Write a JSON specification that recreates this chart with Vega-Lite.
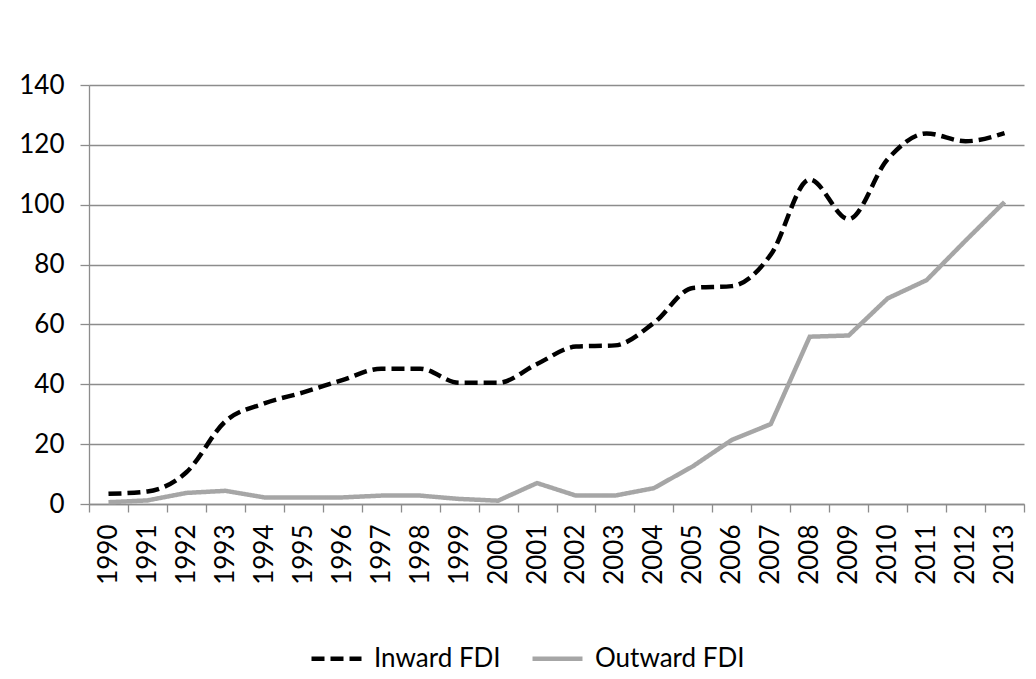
{
  "$schema": "https://vega.github.io/schema/vega-lite/v6.json",
  "width": 935,
  "height": 419,
  "autosize": "none",
  "padding": {"left": 89, "top": 85, "right": 12, "bottom": 175},
  "background": "white",
  "config": {
    "view": {"stroke": null},
    "font": "Lato"
  },
  "data": {
    "values": [
      {"year": "1990", "series": "Inward FDI", "value": 3.4},
      {"year": "1991", "series": "Inward FDI", "value": 4.2},
      {"year": "1992", "series": "Inward FDI", "value": 10.6},
      {"year": "1993", "series": "Inward FDI", "value": 27.6},
      {"year": "1994", "series": "Inward FDI", "value": 33.6},
      {"year": "1995", "series": "Inward FDI", "value": 37.3},
      {"year": "1996", "series": "Inward FDI", "value": 41.4},
      {"year": "1997", "series": "Inward FDI", "value": 45.2},
      {"year": "1998", "series": "Inward FDI", "value": 45.2},
      {"year": "1999", "series": "Inward FDI", "value": 40.5},
      {"year": "2000", "series": "Inward FDI", "value": 40.5},
      {"year": "2001", "series": "Inward FDI", "value": 46.8},
      {"year": "2002", "series": "Inward FDI", "value": 52.6},
      {"year": "2003", "series": "Inward FDI", "value": 53.0},
      {"year": "2004", "series": "Inward FDI", "value": 60.5},
      {"year": "2005", "series": "Inward FDI", "value": 72.2},
      {"year": "2006", "series": "Inward FDI", "value": 72.8},
      {"year": "2007", "series": "Inward FDI", "value": 83.3},
      {"year": "2008", "series": "Inward FDI", "value": 108.4},
      {"year": "2009", "series": "Inward FDI", "value": 95.2},
      {"year": "2010", "series": "Inward FDI", "value": 115.2},
      {"year": "2011", "series": "Inward FDI", "value": 123.8},
      {"year": "2012", "series": "Inward FDI", "value": 121.2},
      {"year": "2013", "series": "Inward FDI", "value": 123.9},
      {"year": "1990", "series": "Outward FDI", "value": 0.6},
      {"year": "1991", "series": "Outward FDI", "value": 1.2},
      {"year": "1992", "series": "Outward FDI", "value": 3.7},
      {"year": "1993", "series": "Outward FDI", "value": 4.4},
      {"year": "1994", "series": "Outward FDI", "value": 2.2},
      {"year": "1995", "series": "Outward FDI", "value": 2.2},
      {"year": "1996", "series": "Outward FDI", "value": 2.2},
      {"year": "1997", "series": "Outward FDI", "value": 2.8},
      {"year": "1998", "series": "Outward FDI", "value": 2.8},
      {"year": "1999", "series": "Outward FDI", "value": 1.7},
      {"year": "2000", "series": "Outward FDI", "value": 1.1},
      {"year": "2001", "series": "Outward FDI", "value": 7.0},
      {"year": "2002", "series": "Outward FDI", "value": 2.8},
      {"year": "2003", "series": "Outward FDI", "value": 2.8},
      {"year": "2004", "series": "Outward FDI", "value": 5.3},
      {"year": "2005", "series": "Outward FDI", "value": 12.6},
      {"year": "2006", "series": "Outward FDI", "value": 21.4},
      {"year": "2007", "series": "Outward FDI", "value": 26.7},
      {"year": "2008", "series": "Outward FDI", "value": 55.9},
      {"year": "2009", "series": "Outward FDI", "value": 56.3},
      {"year": "2010", "series": "Outward FDI", "value": 68.7},
      {"year": "2011", "series": "Outward FDI", "value": 74.8},
      {"year": "2012", "series": "Outward FDI", "value": 88.0},
      {"year": "2013", "series": "Outward FDI", "value": 100.9}
    ]
  },
  "encoding": {
    "x": {
      "field": "year",
      "type": "ordinal",
      "bandPosition": 0.5,
      "scale": {"type": "band", "paddingInner": 0, "paddingOuter": 0},
      "axis": {
        "title": null,
        "tickBand": "extent",
        "labelAngle": -90,
        "labelFont": "Lato",
        "labelFontSize": 26,
        "labelColor": "#000000",
        "labelPadding": 12,
        "tickSize": 8,
        "tickColor": "#8c8c8c",
        "tickWidth": 1.3,
        "domainColor": "#8c8c8c",
        "domainWidth": 1.3,
        "grid": false
      }
    },
    "y": {
      "field": "value",
      "type": "quantitative",
      "scale": {"domain": [0, 140], "nice": false},
      "axis": {
        "title": null,
        "values": [0, 20, 40, 60, 80, 100, 120, 140],
        "grid": true,
        "gridColor": "#8c8c8c",
        "gridWidth": 1.3,
        "tickSize": 9,
        "tickColor": "#8c8c8c",
        "tickWidth": 1.3,
        "domainColor": "#8c8c8c",
        "domainWidth": 1.3,
        "labelFont": "Lato",
        "labelFontSize": 26,
        "labelColor": "#000000",
        "labelPadding": 16
      }
    },
    "color": {
      "field": "series",
      "type": "nominal",
      "scale": {"domain": ["Inward FDI", "Outward FDI"], "range": ["#000000", "#a6a6a6"]},
      "legend": {
        "title": null,
        "orient": "none",
        "legendX": 220,
        "legendY": 546,
        "direction": "horizontal",
        "symbolType": "stroke",
        "symbolSize": 2500,
        "symbolStrokeWidth": 4.5,
        "labelFont": "Lato",
        "labelFontSize": 26,
        "labelColor": "#000000",
        "labelOffset": 10,
        "columnPadding": 22
      }
    },
    "strokeDash": {
      "field": "series",
      "type": "nominal",
      "scale": {"domain": ["Inward FDI", "Outward FDI"], "range": [[13, 6], [1, 0]]},
      "legend": {
        "title": null,
        "orient": "none",
        "legendX": 220,
        "legendY": 546,
        "direction": "horizontal",
        "symbolType": "stroke",
        "symbolSize": 2500,
        "symbolStrokeWidth": 4.5,
        "labelFont": "Lato",
        "labelFontSize": 26,
        "labelColor": "#000000",
        "labelOffset": 10,
        "columnPadding": 22
      }
    }
  },
  "layer": [
    {
      "transform": [{"filter": "datum.series === 'Outward FDI'"}],
      "mark": {"type": "line", "strokeWidth": 4.5, "interpolate": "linear"}
    },
    {
      "transform": [{"filter": "datum.series === 'Inward FDI'"}],
      "mark": {"type": "line", "strokeWidth": 4.5, "interpolate": "monotone"}
    }
  ]
}
